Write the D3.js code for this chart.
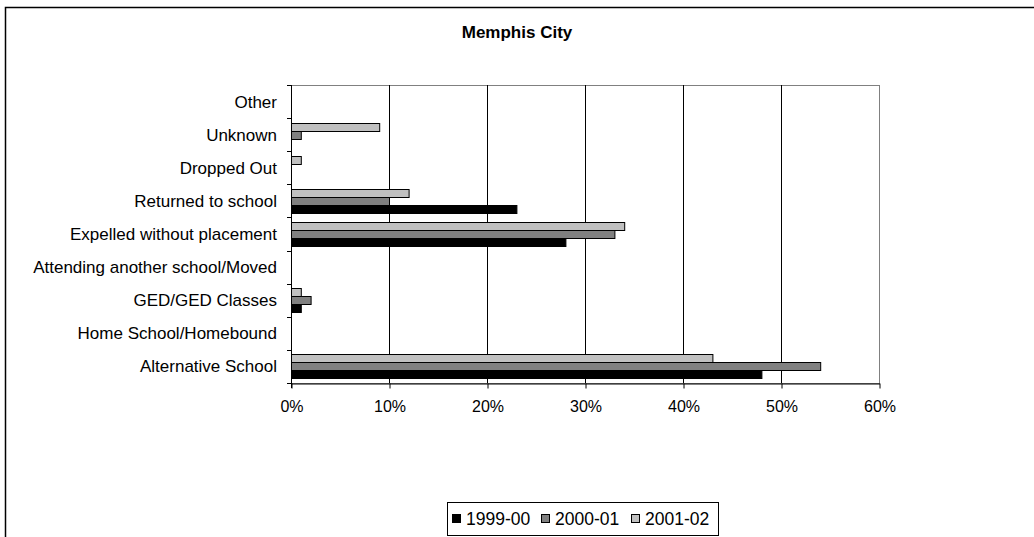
<!DOCTYPE html>
<html>
<head>
<meta charset="utf-8">
<script src="https://cdn.jsdelivr.net/npm/d3@7"></script>
<style>
  html, body { margin: 0; padding: 0; background: #fff; }
  svg { display: block; }
  text { font-family: "Liberation Sans", Arial, sans-serif; fill: #000; }
</style>
</head>
<body>
<svg id="chart" width="1034" height="537"></svg>
<script>
// ---- data ----
const categories = ["Alternative School", "Home School/Homebound", "GED/GED Classes",
  "Attending another school/Moved", "Expelled without placement", "Returned to school",
  "Dropped Out", "Unknown", "Other"];
const seriesNames = ["1999-00", "2000-01", "2001-02"];
const values1999 = [48, 0, 1, 0, 28, 23, 0, 0, 0];
const values2000 = [54, 0, 2, 0, 33, 10, 0, 1, 0];
const values2001 = [43, 0, 1, 0, 34, 12, 1, 9, 0];
const seriesColors = ["#000000", "#808080", "#c0c0c0"];
const xTicks = [0, 10, 20, 30, 40, 50, 60];
const title = "Memphis City";

const seriesValues = [values1999, values2000, values2001];

// ---- layout ----
const svg = d3.select("#chart");
const plot = { left: 291, right: 879, top: 85, bottom: 383 };

// outer chart border
svg.append("rect").attr("x", 5.5).attr("y", 7.5).attr("width", 1040).attr("height", 540)
  .attr("fill", "none").attr("stroke", "#000").attr("stroke-width", 1.5);

svg.append("text").attr("x", 517).attr("y", 38).attr("text-anchor", "middle")
  .style("font-weight", "bold").style("font-size", "17px").text(title);

const x = d3.scaleLinear().domain([0, 60]).range([plot.left, plot.right]);
const y = d3.scaleBand().domain(categories.slice().reverse())
  .range([plot.top, plot.bottom]).paddingInner(0.27).paddingOuter(0.15);
// within group: top is 2001-02, bottom is 1999-00
const ySub = d3.scaleBand().domain(["2001-02", "2000-01", "1999-00"]).range([0, y.bandwidth()]);

// plot area border (grey)
svg.append("rect").attr("x", plot.left + 0.5).attr("y", plot.top + 0.5)
  .attr("width", plot.right - plot.left).attr("height", plot.bottom - plot.top)
  .attr("fill", "none").attr("stroke", "#808080").attr("stroke-width", 1);

// gridlines
svg.append("g").selectAll("line").data(xTicks.filter(t => t > 0 && t < 60)).join("line")
  .attr("x1", d => Math.round(x(d)) + 0.5).attr("x2", d => Math.round(x(d)) + 0.5)
  .attr("y1", plot.top).attr("y2", plot.bottom)
  .attr("stroke", "#000").attr("stroke-width", 1);

// bars
seriesNames.forEach((s, si) => {
  svg.append("g").selectAll("rect").data(categories.map((c, i) => ({ c, v: seriesValues[si][i] })))
    .join("rect")
    .filter(d => d.v > 0)
    .attr("x", x(0) + 0.5)
    .attr("y", d => Math.round(y(d.c) + ySub(s)) + 0.5)
    .attr("width", d => x(d.v) - x(0))
    .attr("height", Math.round(ySub.bandwidth()))
    .attr("fill", seriesColors[si])
    .attr("stroke", "#000").attr("stroke-width", 1);
});

// x axis
const xAxis = d3.axisBottom(x).tickValues(xTicks).tickFormat(d => d + "%")
  .tickSizeInner(5).tickSizeOuter(0).tickPadding(12);
const gx = svg.append("g").attr("transform", `translate(0.5,${plot.bottom + 0.5})`).call(xAxis);
gx.select(".domain").attr("stroke", "#000");
gx.selectAll(".tick line").attr("stroke", "#000");
gx.selectAll("text").style("font-size", "16px").attr("fill", "#000")
  .style("font-family", "'Liberation Sans', Arial, sans-serif");

// y axis (line + ticks at category boundaries)
const gy = svg.append("g");
gy.append("line").attr("x1", plot.left + 0.5).attr("x2", plot.left + 0.5)
  .attr("y1", plot.top).attr("y2", plot.bottom + 5).attr("stroke", "#000");
const boundaries = d3.range(categories.length + 1).map(i => plot.top + i * (plot.bottom - plot.top) / categories.length);
gy.selectAll("line.tk").data(boundaries).join("line").attr("class", "tk")
  .attr("x1", plot.left - 4).attr("x2", plot.left)
  .attr("y1", d => Math.round(d) + 0.5).attr("y2", d => Math.round(d) + 0.5)
  .attr("stroke", "#000");
gy.selectAll("text").data(categories).join("text")
  .attr("x", 277)
  .attr("y", d => y(d) + y.bandwidth() / 2)
  .attr("dy", "0.35em")
  .attr("text-anchor", "end")
  .style("font-size", "17px")
  .text(d => d);

// legend
const lg = svg.append("g");
lg.append("rect").attr("x", 447.5).attr("y", 502.5).attr("width", 271).attr("height", 33)
  .attr("fill", "#fff").attr("stroke", "#000");
const legendX = [452, 541, 631];
seriesNames.forEach((s, i) => {
  lg.append("rect").attr("x", legendX[i] + 0.5).attr("y", 514.5).attr("width", 8).attr("height", 8)
    .attr("fill", seriesColors[i]).attr("stroke", "#000");
  lg.append("text").attr("x", legendX[i] + 14).attr("y", 525).style("font-size", "17.5px").text(s);
});
</script>
</body>
</html>
